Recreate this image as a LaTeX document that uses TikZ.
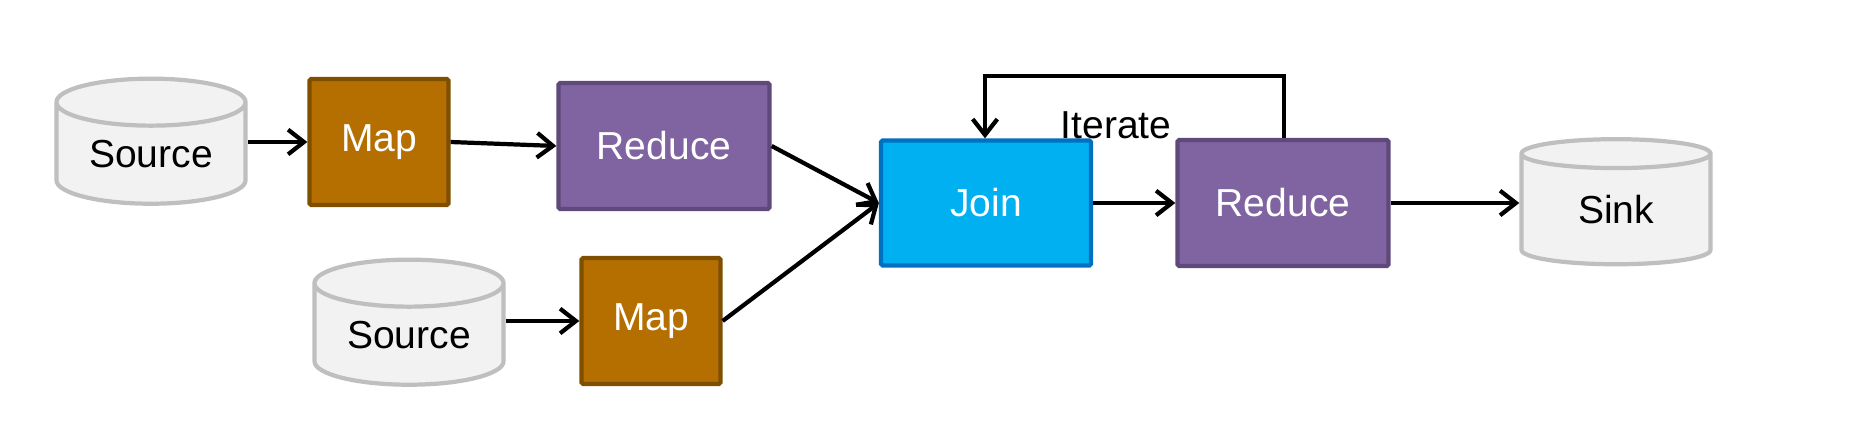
\documentclass[tikz,border=0pt]{standalone}
\usepackage{fontspec}
\setmainfont{Liberation Sans}
\usetikzlibrary{arrows.meta,shapes.geometric}

\definecolor{mapfill}{HTML}{B46F00}
\definecolor{mapline}{HTML}{7F4F00}
\definecolor{redfill}{HTML}{8064A2}
\definecolor{redline}{HTML}{5F497A}
\definecolor{joinfill}{HTML}{00B0F0}
\definecolor{joinline}{HTML}{0070C0}
\definecolor{storefill}{HTML}{F2F2F2}
\definecolor{storeline}{HTML}{BFBFBF}

\begin{document}
\begin{tikzpicture}[x=0.01cm,y=-0.01cm,
  font=\fontsize{11.1}{13}\selectfont,
  op/.style={draw,line width=1.2pt,text=white,inner sep=0pt,rounded corners=0.5pt},
  mapbox/.style={op,fill=mapfill,draw=mapline,minimum width=1.39cm,minimum height=1.26cm},
  redbox/.style={op,fill=redfill,draw=redline,minimum width=2.11cm,minimum height=1.26cm},
  joinbox/.style={op,fill=joinfill,draw=joinline,minimum width=2.10cm,minimum height=1.25cm},
  store/.style={cylinder,shape border rotate=90,aspect=0.38,draw=storeline,fill=storefill,
    line width=1.2pt,minimum width=1.89cm,minimum height=1.25cm,inner sep=0pt},
  flow/.style={-{Straight Barb[length=4.5pt,width=7pt]},line width=1.2pt}]

\useasboundingbox (0,0) rectangle (1854,431);

\node[store]   (src1) at (151,154) {Source};
\node[mapbox]  (map1) at (379,142) {Map};
\node[redbox]  (red1) at (664,146) {Reduce};
\node[store]   (src2) at (409,335) {Source};
\node[mapbox]  (map2) at (651,321) {Map};
\node[joinbox] (join) at (986,203) {Join};
\node[redbox]  (red2) at (1283,203) {Reduce};
\node[store]   (sink) at (1616,210) {Sink};

\coordinate (loopR) at (1284,76);
\coordinate (loopL) at (985,76);
\node (iter) at (1116,125) {Iterate};

\draw[flow] (src1.east |- map1.west) -- (map1.west);
\draw[flow] (map1.east) -- (red1.west);
\draw[flow] (red1.east) -- (join.west);
\draw[flow] (src2.east |- map2.west) -- (map2.west);
\draw[flow] (map2.east) -- (join.west);
\draw[flow] (join.east) -- (red2.west);
\draw[flow] (red2.east) -- (red2.east -| sink.west);
\draw[flow] (red2.north -| loopR) -- (loopR) -- (loopL) -- (join.north -| loopL);

\end{tikzpicture}
\end{document}
